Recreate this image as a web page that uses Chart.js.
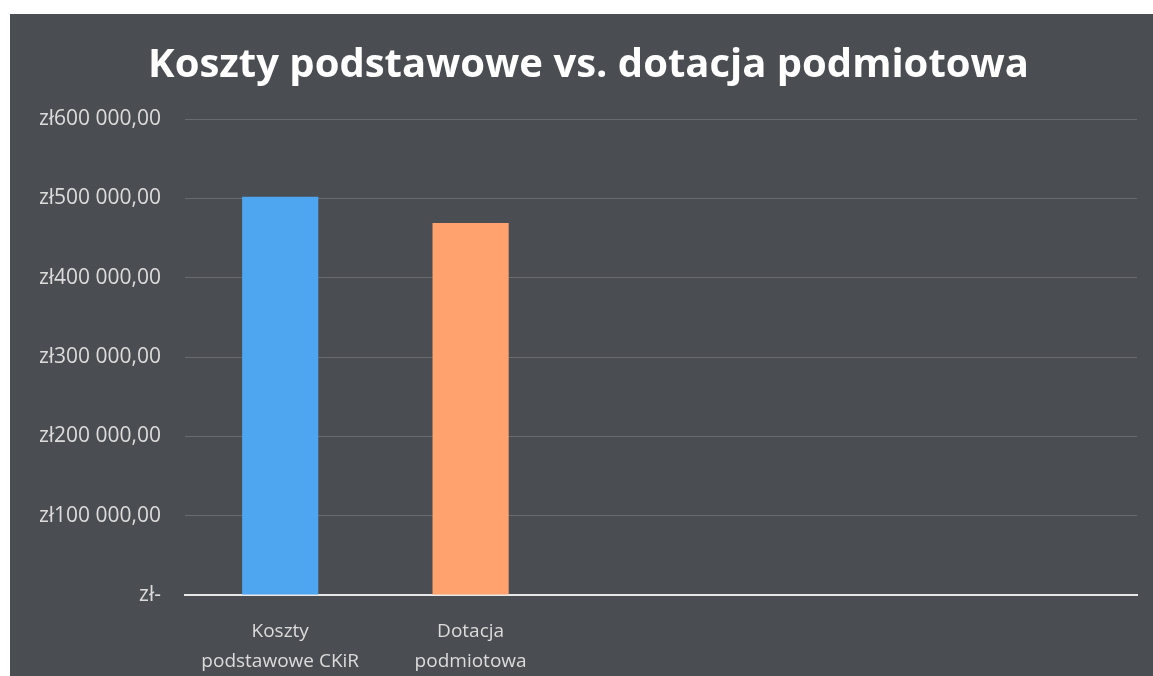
<!DOCTYPE html>
<html lang="pl">
<head>
<meta charset="utf-8">
<title>Koszty podstawowe vs. dotacja podmiotowa</title>
<script src="https://cdn.jsdelivr.net/npm/chart.js"></script>
<style>
  html, body { margin: 0; padding: 0; background: #ffffff; }
  #wrap {
    position: absolute;
    left: 10px; top: 14px;
    width: 1143px; height: 662px;
    background: #4a4d51;
  }
</style>
</head>
<body>
<div id="wrap"><canvas id="chart"></canvas></div>
<script>
// Chart data
const categories = [['Koszty', 'podstawowe CKiR'], ['Dotacja', 'podmiotowa'], '', '', ''];
const values = [502000, 469000, null, null, null];
const barColors = ['#4fa6f0', '#ffa26e', '#4fa6f0', '#4fa6f0', '#4fa6f0'];
const yTickLabels = ['zł-', 'zł100 000,00', 'zł200 000,00', 'zł300 000,00', 'zł400 000,00', 'zł500 000,00', 'zł600 000,00'];

document.addEventListener('DOMContentLoaded', function() {
  const ctx = document.getElementById('chart');

  new Chart(ctx, {
    type: 'bar',
    data: {
      labels: categories,
      datasets: [{
        data: values,
        backgroundColor: barColors,
        borderWidth: 0,
        barPercentage: 0.4,
        categoryPercentage: 1
      }]
    },
    options: {
      responsive: true,
      maintainAspectRatio: false,
      animation: false,
      layout: { padding: { left: 30, right: 16, top: 0, bottom: 0 } },
      plugins: {
        legend: { display: false },
        tooltip: { enabled: false },
        title: {
          display: true,
          text: 'Koszty podstawowe vs. dotacja podmiotowa',
          color: '#ffffff',
          font: { family: 'Open Sans', size: 40, weight: 'bold' },
          padding: { top: 28, bottom: 29 }
        }
      },
      scales: {
        x: {
          afterFit: function(scale) { scale.height = 81; },
          grid: { display: false, drawTicks: false },
          border: { display: true, color: '#e8e8e8', width: 2 },
          ticks: {
            color: '#dcdcdc',
            font: { family: 'Open Sans', size: 19, lineHeight: 1.55 },
            padding: 22,
            maxRotation: 0,
            autoSkip: false
          }
        },
        y: {
          min: 0,
          max: 600000,
          afterFit: function(scale) { scale.width = 145; },
          grid: { color: 'rgba(200,200,200,0.25)', lineWidth: 1, drawTicks: false },
          border: { display: false },
          ticks: {
            stepSize: 100000,
            color: '#dcdcdc',
            font: { family: 'Open Sans', size: 21 },
            padding: 24,
            callback: function(value, index) { return yTickLabels[index]; }
          }
        }
      }
    }
  });
});
</script>
</body>
</html>
